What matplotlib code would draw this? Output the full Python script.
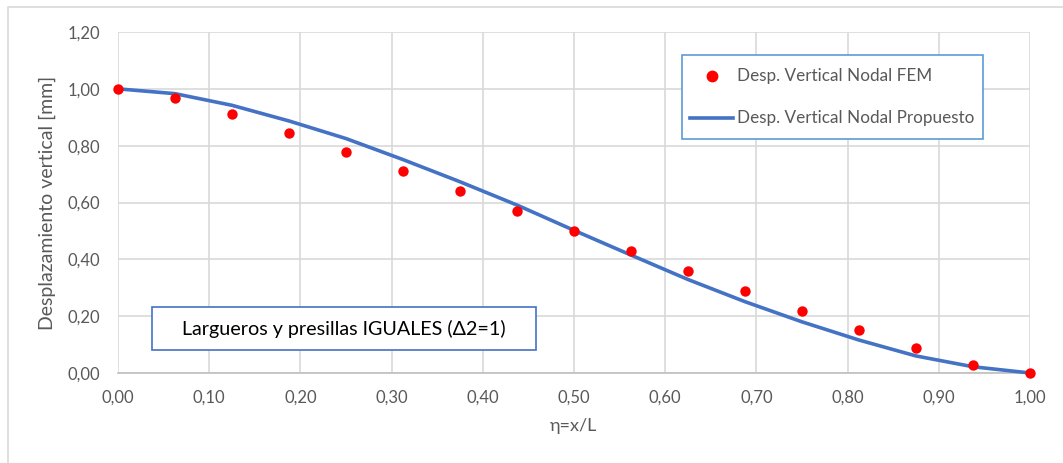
import matplotlib
matplotlib.use("Agg")
import matplotlib.pyplot as plt
from matplotlib.lines import Line2D
from matplotlib.patches import Rectangle

# Data
eta = [0.0, 0.0625, 0.125, 0.1875, 0.25, 0.3125, 0.375, 0.4375, 0.5,
       0.5625, 0.625, 0.6875, 0.75, 0.8125, 0.875, 0.9375, 1.0]
fem = [1.00, 0.969, 0.911, 0.846, 0.779, 0.710, 0.640, 0.571, 0.500,
       0.428, 0.358, 0.287, 0.218, 0.151, 0.087, 0.029, 0.00]
propuesto = [1.00, 0.983, 0.942, 0.887, 0.825, 0.751, 0.673, 0.591, 0.502,
             0.415, 0.329, 0.251, 0.180, 0.116, 0.060, 0.022, 0.00]
xticks = [0.0, 0.1, 0.2, 0.3, 0.4, 0.5, 0.6, 0.7, 0.8, 0.9, 1.0]
yticks = [0.0, 0.2, 0.4, 0.6, 0.8, 1.0, 1.2]
label_fem = "Desp. Vertical Nodal FEM"
label_prop = "Desp. Vertical Nodal Propuesto"
note = "Largueros y presillas IGUALES (\u03942=1)"

plt.rcParams['font.family'] = ['Lato', 'DejaVu Sans']

W, H = 1063, 463
fig = plt.figure(figsize=(W / 100, H / 100), dpi=100)
fig.patch.set_facecolor("white")

# outer chart border (only top/left visible)
fig.add_artist(Rectangle((8 / W, -0.1), 1.2, (H - 7) / H + 0.1, transform=fig.transFigure,
                         fill=False, edgecolor="#D9D9D9", linewidth=1.2))

L, R, T, B = 118, 1030, 32, 373
ax = fig.add_axes([L / W, 1 - B / H, (R - L) / W, (B - T) / H])
ax.set_xlim(0, 1.0)
ax.set_ylim(0, 1.2)
ax.set_xticks(xticks)
ax.set_yticks(yticks)
ax.set_xticklabels([f"{v:.2f}".replace(".", ",") for v in xticks])
ax.set_yticklabels([f"{v:.2f}".replace(".", ",") for v in yticks])
ax.grid(True, color="#D9D9D9", linewidth=1.2)
ax.set_axisbelow(True)
for s in ["top", "right", "left"]:
    ax.spines[s].set_visible(False)
ax.spines["bottom"].set_color("#BFBFBF")
ax.spines["bottom"].set_linewidth(1.2)
ax.tick_params(axis="both", length=0, labelsize=12, colors="#595959")
ax.tick_params(axis="y", pad=13)
ax.tick_params(axis="x", pad=12)

ax.plot(eta, propuesto, color="#4472C4", linewidth=2.6, zorder=3, clip_on=False)
ax.scatter(eta, fem, s=56, color="#FF0000", zorder=4, clip_on=False, linewidths=0)

ax.set_ylabel("Desplazamiento vertical [mm]", fontsize=14, color="#595959", labelpad=8)
ax.set_xlabel("\u03b7=x/L", fontsize=13, color="#595959", labelpad=9)

# legend box
lx0, ly0, lx1, ly1 = 682, 55, 983, 139
fig.add_artist(Rectangle((lx0 / W, 1 - ly1 / H), (lx1 - lx0) / W, (ly1 - ly0) / H,
                         transform=fig.transFigure, facecolor="white",
                         edgecolor="#5B9BD5", linewidth=1.2, zorder=5))
fig.add_artist(Line2D([712 / W], [1 - 76 / H], marker="o", markersize=7.5,
                      color="#FF0000", linestyle="none", transform=fig.transFigure, zorder=6))
fig.add_artist(Line2D([690 / W, 733 / W], [1 - 118 / H, 1 - 118 / H], color="#4472C4",
                      linewidth=2.6, transform=fig.transFigure, zorder=6))
fig.text(737 / W, 1 - 76 / H, label_fem, fontsize=12.3, color="#595959",
         va="center", ha="left", zorder=6)
fig.text(737 / W, 1 - 118 / H, label_prop, fontsize=12.3, color="#595959",
         va="center", ha="left", zorder=6)

# annotation box
bx0, by0, bx1, by1 = 152, 307, 536, 350
fig.add_artist(Rectangle((bx0 / W, 1 - by1 / H), (bx1 - bx0) / W, (by1 - by0) / H,
                         transform=fig.transFigure, facecolor="white",
                         edgecolor="#4472C4", linewidth=1.2, zorder=5))
fig.text((bx0 + bx1) / 2 / W, 1 - (by0 + by1) / 2 / H, note, fontsize=14.2,
         color="#000000", va="center", ha="center", zorder=6)

fig.savefig("out.png", dpi=100, facecolor="white")
